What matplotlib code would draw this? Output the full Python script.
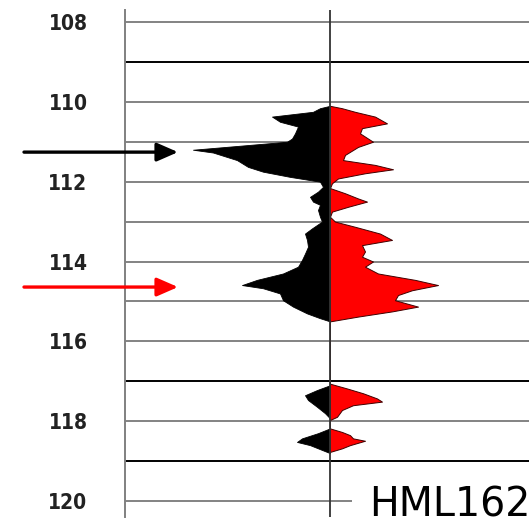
import numpy as np
import matplotlib
matplotlib.use("Agg")
import matplotlib.pyplot as plt

# depth (m) and amplitude of the left (black) trace
black_depth = [110.10, 110.16, 110.25, 110.37, 110.50, 110.62, 110.79, 110.92, 111.00, 111.10,
               111.20, 111.27, 111.46, 111.63, 111.75, 111.88, 112.00, 112.13, 112.25, 112.38,
               112.50, 112.58, 112.71, 112.88, 113.00, 113.17, 113.30, 113.46, 113.63, 113.80,
               113.96, 114.13, 114.30, 114.46, 114.59, 114.67, 114.80, 114.97, 115.13, 115.30,
               115.42, 115.50,
               117.10, 117.22, 117.35, 117.47, 117.64, 117.80, 117.93,
               118.18, 118.30, 118.43, 118.52, 118.60, 118.73, 118.80]
black_amp = [0, 10, 17, 58, 50, 32, 35, 38, 43, 90,
             137, 117, 93, 82, 67, 40, 10, 7, 12, 20,
             17, 10, 12, 10, 8, 18, 25, 23, 22, 25,
             28, 32, 47, 73, 88, 67, 50, 47, 37, 23,
             10, 0,
             0, 13, 25, 22, 13, 5, 0,
             0, 12, 28, 33, 20, 7, 0]

# depth (m) and amplitude of the right (red) trace
red_depth = [110.10, 110.16, 110.25, 110.37, 110.54, 110.66, 110.79, 111.00, 111.13, 111.33,
             111.46, 111.58, 111.69, 111.79, 111.92, 112.04, 112.16, 112.29, 112.42, 112.50,
             112.63, 112.75, 112.88, 113.00, 113.13, 113.30, 113.46, 113.59, 113.75, 113.88,
             114.00, 114.13, 114.30, 114.46, 114.59, 114.72, 114.84, 114.97, 115.13, 115.25,
             115.38, 115.50,
             117.06, 117.18, 117.30, 117.43, 117.51, 117.60, 117.72, 117.89, 117.97,
             118.18, 118.27, 118.35, 118.43, 118.49, 118.60, 118.68, 118.77]
red_amp = [0, 12, 25, 45, 57, 32, 30, 43, 28, 15,
           13, 45, 63, 35, 8, 2, 0, 15, 28, 37,
           18, 2, 0, 5, 25, 50, 62, 32, 35, 32,
           43, 35, 48, 85, 108, 82, 68, 65, 88, 62,
           28, 0,
           0, 17, 33, 47, 52, 23, 12, 7, 0,
           0, 12, 20, 23, 35, 20, 12, 0]

depth_ticks = [108, 110, 112, 114, 116, 118, 120]
grid_depths = np.arange(108, 121)
dark_grid = [109, 117, 119]

black_arrow_depth = 111.26
red_arrow_depth = 114.64
well_name = "HML162"

fig = plt.figure(figsize=(5.29, 5.29), dpi=100)
ax = fig.add_axes([125 / 529, 12 / 529, 404 / 529, 507 / 529])
ax.set_xlim(-205, 199)
ax.set_ylim(120.4, 107.7)

for d in grid_depths:
    if d in dark_grid:
        ax.axhline(d, color="black", lw=1.4, zorder=1)
    else:
        ax.axhline(d, color="#7a7a7a", lw=1.3, zorder=1)

ax.fill_betweenx(black_depth, 0, -np.array(black_amp), color="black", lw=0.6, zorder=2)
ax.fill_betweenx(red_depth, 0, red_amp, facecolor="red", edgecolor="#400000", lw=0.7, zorder=2)
ax.axvline(0, color="#333333", lw=1.3, zorder=3)

for spine in ["top", "right", "bottom"]:
    ax.spines[spine].set_visible(False)
ax.spines["left"].set_color("#808080")
ax.spines["left"].set_linewidth(1.4)
ax.set_xticks([])
ax.set_yticks(depth_ticks)
ax.set_yticklabels([str(t) for t in depth_ticks], family="DejaVu Sans", fontstretch="condensed",
                   fontweight="bold", fontsize=15, color="#222222")
ax.tick_params(axis="y", length=0, pad=27)

# arrows pointing at the two peaks
for d, c in [(black_arrow_depth, "black"), (red_arrow_depth, "red")]:
    ax.annotate("", xy=(-152, d), xytext=(-306, d), annotation_clip=False,
                arrowprops=dict(arrowstyle="-|>,head_length=0.8,head_width=0.35",
                                mutation_scale=16, color=c, lw=2.4, shrinkA=0, shrinkB=0))

ax.text(39, 120.1, well_name, fontsize=28.5, color="black", va="center", ha="left",
        bbox=dict(facecolor="white", edgecolor="none", pad=12), zorder=5, clip_on=False)

fig.savefig("out.png", dpi=100, facecolor="white")
